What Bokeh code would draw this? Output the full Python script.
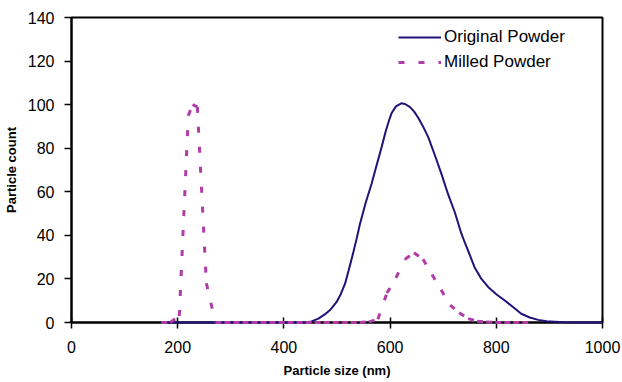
from bokeh.plotting import figure
from bokeh.models import ColumnDataSource, Legend, LegendItem, FixedTicker
from bokeh.embed import file_html
from bokeh.resources import INLINE

# ---- data ----
original_size_nm = [169, 440, 452, 465, 477, 488, 499, 507, 515, 522, 530, 537, 543,
                    554, 565, 575, 584, 592, 599, 603, 611, 621, 628, 637, 645, 653,
                    662, 672, 684, 697, 709, 722, 734, 741, 750, 759, 772, 785, 800,
                    816, 832, 847, 863, 879, 895, 910, 930, 950, 1000]

original_powder = [0, 0, 0.5, 1.8, 3.7, 6, 9.3, 13, 17.7, 24, 31.5, 38.5, 45,
                   55, 63.6, 72.5, 80.5, 88, 93.5, 96.2, 99.2, 100.6, 100.3, 99, 96.9, 94,
                   90, 85, 77, 68, 59, 50.5, 41, 36.5, 31, 25.4, 20, 16.2, 13,
                   10.1, 7, 4, 2.3, 1.2, 0.6, 0.4, 0.1, 0, 0]

milled_size_nm = [169, 186, 203, 220, 228, 237, 254, 271, 288, 305, 322, 339, 356, 373,
                  390, 407, 424, 441, 458, 475, 492, 509, 526, 543, 560, 577, 594, 611,
                  628, 645, 662, 679, 696, 713, 730, 747, 764, 781, 798, 815, 832, 849,
                  866]

milled_powder = [0, 0, 3, 95, 100, 99, 18, 0, 0, 0, 0, 0, 0, 0,
                 0, 0, 0, 0, 0, 0, 0, 0, 0, 0, 0.3, 1.5, 13.5, 20.5,
                 29, 32, 29, 22, 15, 8, 4.5, 1.8, 0.6, 0.2, 0, 0, 0, 0,
                 0]

x_ticks = [0, 200, 400, 600, 800, 1000]
y_ticks = [0, 20, 40, 60, 80, 100, 120, 140]

NAVY = "#221177"
MAGENTA = "#b03ca8"
FONT = "Liberation Sans"

p = figure(frame_width=531, frame_height=305,
           x_range=(0, 1000), y_range=(0, 140),
           output_backend="svg", toolbar_location=None,
           min_border_left=70, min_border_right=21,
           min_border_top=17, min_border_bottom=60)

p.background_fill_color = "white"
p.border_fill_color = "white"
p.outline_line_color = "black"
p.outline_line_width = 2
p.xgrid.grid_line_color = None
p.ygrid.grid_line_color = None

# solid series
orig = p.line(original_size_nm, original_powder, line_color=NAVY, line_width=2,
              level="annotation")

# dashed series, drawn segment by segment (dash pattern restarts at each point)
seg_xs = [[milled_size_nm[i], milled_size_nm[i + 1]] for i in range(len(milled_size_nm) - 1)]
seg_ys = [[milled_powder[i], milled_powder[i + 1]] for i in range(len(milled_powder) - 1)]
msrc = ColumnDataSource(dict(xs=seg_xs, ys=seg_ys))
mill = p.multi_line("xs", "ys", source=msrc, line_color=MAGENTA, line_width=3,
                    line_dash="6 14", level="annotation")

# axes
for ax in (p.xaxis[0], p.yaxis[0]):
    ax.axis_line_color = "black"
    ax.axis_line_width = 2
    ax.major_tick_line_color = "black"
    ax.major_tick_line_width = 1.5
    ax.minor_tick_line_color = None
    ax.major_label_text_font = FONT
    ax.major_label_text_font_size = "16px"
    ax.major_label_text_color = "black"
    ax.axis_label_text_font = FONT
    ax.axis_label_text_font_size = "13px"
    ax.axis_label_text_font_style = "bold"
    ax.axis_label_text_color = "black"

p.xaxis.ticker = FixedTicker(ticks=x_ticks)
p.yaxis.ticker = FixedTicker(ticks=y_ticks)
p.xaxis.axis_label = "Particle size (nm)"
p.yaxis.axis_label = "Particle count"
p.xaxis.major_tick_in = 5
p.xaxis.major_tick_out = 6
p.yaxis.major_tick_in = 0
p.yaxis.major_tick_out = 7
p.xaxis.major_label_standoff = 12
p.yaxis.major_label_standoff = 10
p.xaxis.axis_label_standoff = 7
p.yaxis.axis_label_standoff = 6

legend = Legend(items=[LegendItem(label="Original Powder", renderers=[orig]),
                       LegendItem(label="Milled Powder", renderers=[mill])],
                location=(322, 245))
legend.margin = 0
legend.padding = 5
legend.spacing = 5
legend.glyph_width = 43
legend.glyph_height = 20
legend.label_height = 20
legend.label_standoff = 3
legend.label_text_font = FONT
legend.label_text_font_size = "17px"
legend.label_text_color = "black"
legend.border_line_alpha = 0
legend.background_fill_alpha = 0
p.add_layout(legend)

open("out.html", "w").write(file_html(p, INLINE))
